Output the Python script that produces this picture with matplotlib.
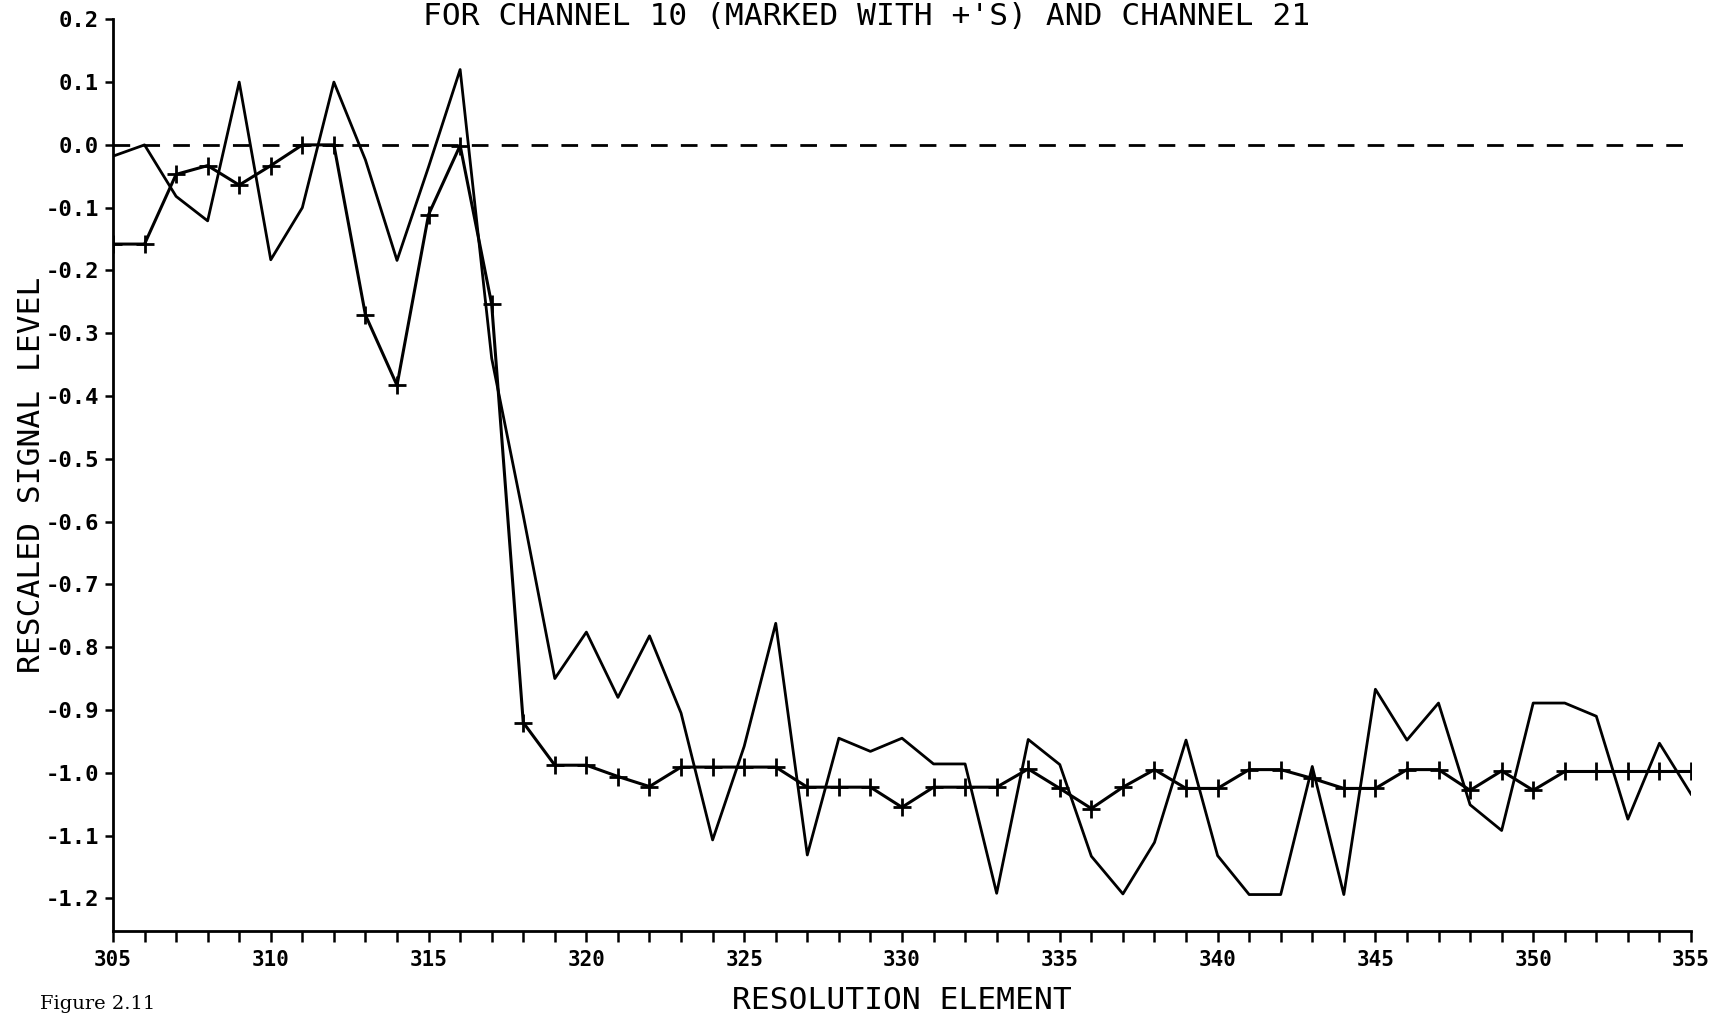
import matplotlib
matplotlib.use('Agg')
import matplotlib.pyplot as plt
import numpy as np

# resolution elements 305..355
elements = list(range(305, 356))

# channel 10 (marked with +)
chan10 = [-0.158, -0.158, -0.047, -0.033, -0.064, -0.033, 0.0, 0.0, -0.271, -0.383,
          -0.111, -0.001, -0.254, -0.920, -0.988, -0.988, -1.006, -1.022, -0.991, -0.991,
          -0.991, -0.991, -1.023, -1.023, -1.023, -1.055, -1.023, -1.023, -1.023, -0.994,
          -1.025, -1.057, -1.023, -0.995, -1.025, -1.025, -0.995, -0.995, -1.009, -1.025,
          -1.025, -0.995, -0.995, -1.028, -0.997, -1.028, -0.998, -0.998, -0.998, -0.998,
          -0.998]

# channel 21 (plain line)
chan21 = [-0.018, 0.0, -0.082, -0.121, 0.100, -0.183, -0.100, 0.100, -0.024, -0.184,
          -0.035, 0.120, -0.340, -0.590, -0.850, -0.776, -0.880, -0.782, -0.905, -1.107,
          -0.958, -0.762, -1.131, -0.945, -0.966, -0.945, -0.986, -0.986, -1.192, -0.947,
          -0.987, -1.133, -1.193, -1.111, -0.948, -1.132, -1.194, -1.194, -0.990, -1.194,
          -0.867, -0.948, -0.889, -1.051, -1.092, -0.889, -0.889, -0.910, -1.074, -0.953,
          -1.034]

yticks = [0.2, 0.1, 0.0, -0.1, -0.2, -0.3, -0.4, -0.5, -0.6, -0.7, -0.8, -0.9, -1.0, -1.1, -1.2]
xticks = [305, 310, 315, 320, 325, 330, 335, 340, 345, 350, 355]

plt.rcParams['lines.scale_dashes'] = False
mono = 'DejaVu Sans Mono'

fig = plt.figure(figsize=(17.22, 10.16), dpi=100)
ax = fig.add_axes([0.0656, 0.0837, 0.9164, 0.8973])

# zero reference line
ax.hlines(0.0, 305, 355, colors='black', linewidth=2, linestyles=(0, (12, 9.5)))

ax.plot(elements, chan21, '-', color='black', linewidth=2)
ax.plot(elements, chan10, '-', color='black', linewidth=2.2,
        marker='+', markersize=13, markeredgewidth=2)

ax.set_xlim(305, 355)
ax.set_ylim(-1.252, 0.2)

ax.spines['top'].set_visible(False)
ax.spines['right'].set_visible(False)
ax.spines['left'].set_linewidth(2)
ax.spines['bottom'].set_linewidth(2)

ax.set_yticks(yticks)
ax.set_yticklabels(['%.1f' % v for v in yticks])
ax.set_xticks(xticks)
ax.set_xticks(elements, minor=True)
ax.tick_params(axis='y', direction='out', length=6, width=1.8, pad=4)
ax.tick_params(axis='x', which='both', direction='out', length=8, width=1.8, pad=6)

for lab in ax.get_yticklabels():
    lab.set_family(mono)
    lab.set_fontsize(16)
    lab.set_fontweight('bold')
for lab in ax.get_xticklabels():
    lab.set_family(mono)
    lab.set_fontsize(15)
    lab.set_fontweight('bold')

ax.set_xlabel('RESOLUTION ELEMENT', family=mono, fontsize=22.5, labelpad=11)
ax.set_ylabel('RESCALED SIGNAL LEVEL', family=mono, fontsize=22.5, labelpad=0)

# title sits right at the top edge of the page
fig.text(0.5035, 0.9985, "FOR CHANNEL 10 (MARKED WITH +'S) AND CHANNEL 21",
         family=mono, fontsize=22.5, ha='center', va='top')

fig.text(0.023, 0.003, 'Figure 2.11', family='DejaVu Serif', fontsize=14,
         ha='left', va='bottom')

fig.savefig('out.png', dpi=100, facecolor='white')
